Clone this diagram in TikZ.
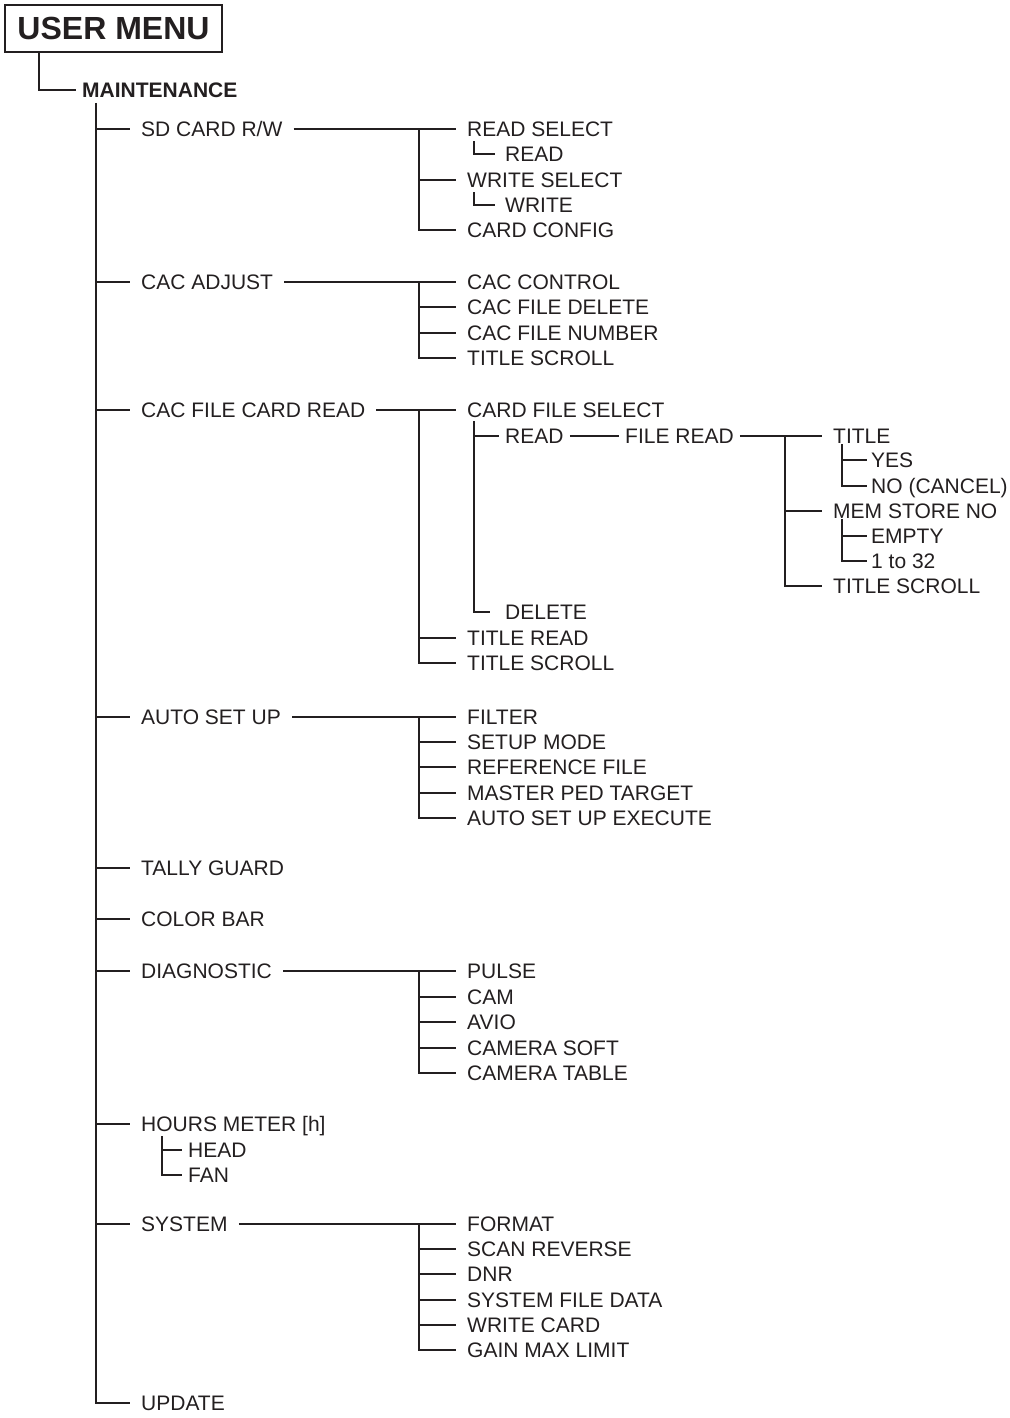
\documentclass[tikz,border=0pt]{standalone}
\usepackage{fontspec}
\setmainfont{Liberation Sans}
\usepackage{tikz}
\definecolor{ink}{RGB}{35, 31, 32}
\newcommand{\menufont}{\fontsize{21}{25}\selectfont}
\usetikzlibrary{positioning, calc}

\begin{document}
\begin{tikzpicture}[x=1pt, y=-1pt,
    item/.style={anchor=west, inner xsep=11pt, inner ysep=0pt, text height=15pt,
                text depth=0pt, font=\menufont, text=ink},
    leaf/.style={item, inner xsep=4pt},
    tree/.style={draw=ink, line width=1.1pt}
]
    \useasboundingbox (0,0) rectangle (1009,1418);

    % Title
    \node[draw=ink, line width=1.3pt, minimum width=217pt, minimum height=47pt, inner sep=0pt,
          font=\fontsize{32}{36}\selectfont\bfseries, text=ink] (um) at (113.5,28.5) {USER MENU};
    \node[item, inner xsep=6pt, font=\menufont\bfseries] (maint) at (76,90) {MAINTENANCE};
    \coordinate (umleg) at (39,52);
    \draw[tree] (umleg) |- (maint.west);

    % Main items
    \node[item] (sd) at (130,129) {SD CARD R/W};
    \node[item] (cacadj) at (130,282) {CAC ADJUST};
    \node[item] (cacfile) at (130,410) {CAC FILE CARD READ};
    \node[item] (autoset) at (130,717) {AUTO SET UP};
    \node[item] (tally) at (130,868) {TALLY GUARD};
    \node[item] (colorbar) at (130,919) {COLOR BAR};
    \node[item] (diag) at (130,971) {DIAGNOSTIC};
    \node[item] (hours) at (130,1124) {HOURS METER [h]};
    \node[item] (system) at (130,1224) {SYSTEM};
    \node[item] (update) at (130,1403) {UPDATE};

    \coordinate (trunk) at (96,103);
    \draw[tree] (trunk) |- (update.west);
    \draw[tree] (sd.west -| trunk) -- (sd.west);
    \draw[tree] (cacadj.west -| trunk) -- (cacadj.west);
    \draw[tree] (cacfile.west -| trunk) -- (cacfile.west);
    \draw[tree] (autoset.west -| trunk) -- (autoset.west);
    \draw[tree] (tally.west -| trunk) -- (tally.west);
    \draw[tree] (colorbar.west -| trunk) -- (colorbar.west);
    \draw[tree] (diag.west -| trunk) -- (diag.west);
    \draw[tree] (hours.west -| trunk) -- (hours.west);
    \draw[tree] (system.west -| trunk) -- (system.west);

    % SD CARD R/W
    \node[item] (rsel) at (456,129) {READ SELECT};
    \node[item, inner xsep=10pt] (rd) at (495,154) {READ};
    \node[item] (wsel) at (456,180) {WRITE SELECT};
    \node[item, inner xsep=10pt] (wr) at (495,205) {WRITE};
    \node[item] (cconf) at (456,230) {CARD CONFIG};
    \coordinate (sdj) at (419,129);
    \coordinate (rdbar) at (474,141);
    \coordinate (wrbar) at (474,192);
    \draw[tree] (sd.east) -- (rsel.west);
    \draw[tree] (sdj) |- (cconf.west);
    \draw[tree] (wsel.west -| sdj) -- (wsel.west);
    \draw[tree] (rdbar) |- (rd.west);
    \draw[tree] (wrbar) |- (wr.west);

    % CAC ADJUST
    \node[item] (cacctl) at (456,282) {CAC CONTROL};
    \node[item] (cacdel) at (456,307) {CAC FILE DELETE};
    \node[item] (cacnum) at (456,333) {CAC FILE NUMBER};
    \node[item] (cacscr) at (456,358) {TITLE SCROLL};
    \coordinate (cacj) at (419,282);
    \draw[tree] (cacadj.east) -- (cacctl.west);
    \draw[tree] (cacj) |- (cacscr.west);
    \draw[tree] (cacdel.west -| cacj) -- (cacdel.west);
    \draw[tree] (cacnum.west -| cacj) -- (cacnum.west);

    % CAC FILE CARD READ
    \node[item] (cfsel) at (456,410) {CARD FILE SELECT};
    \node[item] (tread) at (456,638) {TITLE READ};
    \node[item] (tscr) at (456,663) {TITLE SCROLL};
    \coordinate (cfj) at (419,410);
    \draw[tree] (cacfile.east) -- (cfsel.west);
    \draw[tree] (cfj) |- (tscr.west);
    \draw[tree] (tread.west -| cfj) -- (tread.west);

    \node[item, inner xsep=6pt] (cfread) at (499,436) {READ};
    \node[item, inner xsep=15pt] (cfdel) at (490,612) {DELETE};
    \coordinate (cfbar) at (474,421);
    \draw[tree] (cfbar) |- (cfdel.west);
    \draw[tree] (cfread.west -| cfbar) -- (cfread.west);

    \node[item, inner xsep=6pt] (fread) at (619,436) {FILE READ};
    \draw[tree] (cfread.east) -- (fread.west);

    \node[item] (title) at (822,436) {TITLE};
    \node[item] (memno) at (822,511) {MEM STORE NO};
    \node[item] (fscr) at (822,586) {TITLE SCROLL};
    \coordinate (frj) at (785,436);
    \draw[tree] (fread.east) -- (title.west);
    \draw[tree] (frj) |- (fscr.west);
    \draw[tree] (memno.west -| frj) -- (memno.west);

    \node[leaf] (yes) at (867,460) {YES};
    \node[leaf] (no) at (867,486) {NO (CANCEL)};
    \coordinate (titlebar) at (842,444);
    \draw[tree] (titlebar) |- (no.west);
    \draw[tree] (yes.west -| titlebar) -- (yes.west);

    \node[leaf] (empty) at (867,536) {EMPTY};
    \node[leaf] (num) at (867,561) {1 to 32};
    \coordinate (membar) at (842,519);
    \draw[tree] (membar) |- (num.west);
    \draw[tree] (empty.west -| membar) -- (empty.west);

    % AUTO SET UP
    \node[item] (filter) at (456,717) {FILTER};
    \node[item] (setmode) at (456,742) {SETUP MODE};
    \node[item] (reffile) at (456,767) {REFERENCE FILE};
    \node[item] (mped) at (456,793) {MASTER PED TARGET};
    \node[item] (asexec) at (456,818) {AUTO SET UP EXECUTE};
    \coordinate (asj) at (419,717);
    \draw[tree] (autoset.east) -- (filter.west);
    \draw[tree] (asj) |- (asexec.west);
    \draw[tree] (setmode.west -| asj) -- (setmode.west);
    \draw[tree] (reffile.west -| asj) -- (reffile.west);
    \draw[tree] (mped.west -| asj) -- (mped.west);

    % DIAGNOSTIC
    \node[item] (pulse) at (456,971) {PULSE};
    \node[item] (cam) at (456,997) {CAM};
    \node[item] (avio) at (456,1022) {AVIO};
    \node[item] (camsoft) at (456,1048) {CAMERA SOFT};
    \node[item] (camtab) at (456,1073) {CAMERA TABLE};
    \coordinate (dgj) at (419,971);
    \draw[tree] (diag.east) -- (pulse.west);
    \draw[tree] (dgj) |- (camtab.west);
    \draw[tree] (cam.west -| dgj) -- (cam.west);
    \draw[tree] (avio.west -| dgj) -- (avio.west);
    \draw[tree] (camsoft.west -| dgj) -- (camsoft.west);

    % HOURS METER
    \node[item, inner xsep=6pt] (head) at (182,1150) {HEAD};
    \node[item, inner xsep=6pt] (fan) at (182,1175) {FAN};
    \coordinate (hrbar) at (162,1136);
    \draw[tree] (hrbar) |- (fan.west);
    \draw[tree] (head.west -| hrbar) -- (head.west);

    % SYSTEM
    \node[item] (format) at (456,1224) {FORMAT};
    \node[item] (scanrev) at (456,1249) {SCAN REVERSE};
    \node[item] (dnr) at (456,1274) {DNR};
    \node[item] (sysfile) at (456,1300) {SYSTEM FILE DATA};
    \node[item] (wcard) at (456,1325) {WRITE CARD};
    \node[item] (gain) at (456,1350) {GAIN MAX LIMIT};
    \coordinate (syj) at (419,1224);
    \draw[tree] (system.east) -- (format.west);
    \draw[tree] (syj) |- (gain.west);
    \draw[tree] (scanrev.west -| syj) -- (scanrev.west);
    \draw[tree] (dnr.west -| syj) -- (dnr.west);
    \draw[tree] (sysfile.west -| syj) -- (sysfile.west);
    \draw[tree] (wcard.west -| syj) -- (wcard.west);
\end{tikzpicture}
\end{document}
